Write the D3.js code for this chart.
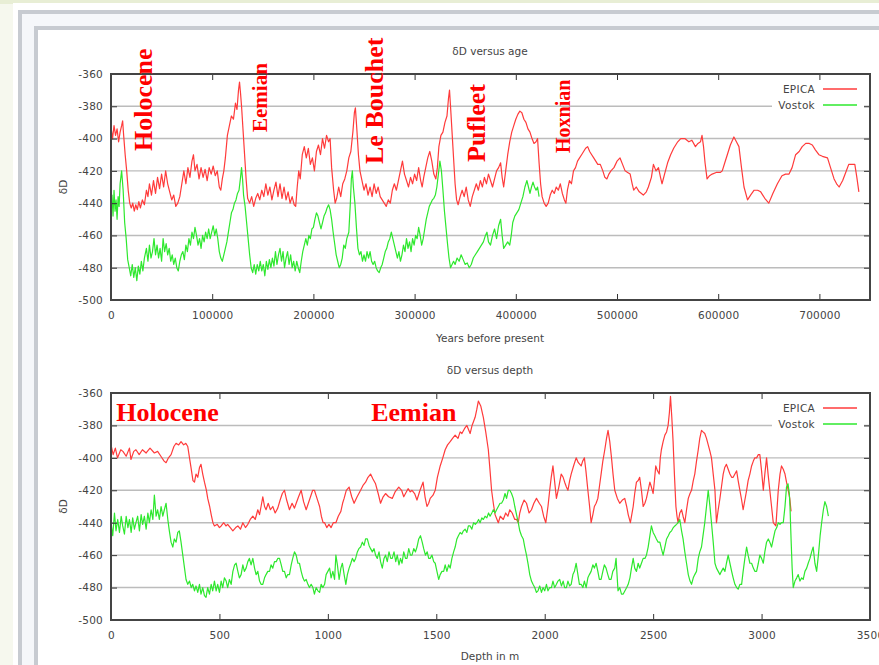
<!DOCTYPE html>
<html><head><meta charset="utf-8">
<script src="https://cdn.jsdelivr.net/npm/d3@7"></script>
<style>html,body{margin:0;padding:0;background:#f6f8ee;overflow:hidden}</style>
</head><body>
<script>
// ---------- data ----------
const yTicks = [-360,-380,-400,-420,-440,-460,-480,-500];
const ageTicks = [0,100000,200000,300000,400000,500000,600000,700000];
const depthTicks = [0,500,1000,1500,2000,2500,3000,3500];
const seriesNames = ["EPICA","Vostok"];

const epicaAge = [[0,-393],[1500,-400],[3000,-392],[4500,-398],[6000,-394],[7500,-402],[9000,-396],[10500,-392],[11500,-389],[12500,-398],[14000,-410],[15500,-420],[17000,-432],[18500,-440],[20000,-443],[21500,-440],[23000,-445],[24500,-441],[26000,-444],[27500,-439],[29000,-443],[31000,-438],[33000,-441],[35000,-432],[36500,-436],[38000,-428],[40000,-435],[42000,-426],[44000,-434],[46000,-424],[48000,-431],[50000,-422],[52000,-430],[54000,-420],[56000,-428],[58000,-433],[60000,-438],[62000,-435],[64000,-442],[66000,-440],[68000,-436],[70000,-428],[72000,-420],[74000,-428],[76000,-418],[78000,-424],[80000,-414],[81500,-410],[83000,-420],[85000,-416],[87000,-425],[89000,-418],[91000,-424],[93000,-419],[95000,-426],[97000,-418],[99000,-422],[101000,-417],[103000,-423],[105000,-420],[107000,-430],[108500,-432],[110000,-425],[111500,-420],[113000,-412],[115000,-398],[117000,-392],[119000,-386],[121000,-388],[123000,-378],[124500,-382],[126000,-370],[127000,-365],[128000,-372],[129000,-380],[130500,-395],[132000,-410],[133500,-425],[135000,-437],[137000,-440],[139000,-436],[141000,-442],[143000,-437],[145000,-434],[147000,-438],[149000,-432],[151000,-436],[153000,-428],[155000,-435],[157000,-430],[159000,-438],[161000,-432],[163000,-427],[165000,-436],[167000,-428],[169000,-437],[171000,-430],[173000,-438],[175000,-433],[177000,-440],[179000,-436],[181000,-441],[182500,-442],[184000,-430],[185500,-420],[187000,-425],[189000,-410],[191000,-405],[193000,-412],[195000,-406],[197000,-416],[199000,-412],[201000,-420],[203000,-408],[205000,-404],[207000,-410],[209000,-400],[211000,-406],[213000,-398],[215000,-402],[216500,-400],[218000,-418],[220000,-432],[221500,-440],[223000,-437],[225000,-430],[227000,-436],[229000,-428],[231000,-425],[233000,-420],[235000,-412],[237000,-408],[239000,-396],[240500,-384],[241500,-381],[243000,-395],[244500,-410],[246000,-420],[248000,-426],[250000,-432],[252000,-428],[254000,-435],[256000,-430],[258000,-436],[260000,-428],[262000,-434],[264000,-430],[266000,-436],[268000,-438],[270000,-440],[272000,-442],[274000,-438],[276000,-440],[278000,-432],[280000,-428],[282000,-432],[284000,-426],[286000,-420],[288000,-414],[290000,-422],[292000,-426],[294000,-430],[296000,-424],[298000,-428],[300000,-422],[302000,-426],[304000,-418],[306000,-426],[307500,-430],[309000,-424],[311000,-418],[313000,-412],[315000,-408],[317000,-414],[319000,-422],[321000,-425],[322500,-418],[324000,-405],[326000,-398],[328000,-396],[330000,-390],[332000,-386],[333500,-375],[334500,-370],[335500,-380],[337000,-396],[338500,-412],[340000,-428],[341500,-438],[343000,-441],[345000,-436],[347000,-432],[349000,-436],[351000,-430],[353000,-438],[355000,-442],[357000,-436],[359000,-432],[361000,-428],[363000,-432],[365000,-426],[367000,-430],[369000,-424],[371000,-428],[373000,-422],[375000,-426],[377000,-430],[379000,-425],[381000,-420],[383000,-418],[385000,-415],[386500,-424],[388000,-430],[390000,-420],[392000,-410],[394000,-402],[396000,-396],[398000,-392],[400000,-388],[402000,-385],[404000,-383],[406000,-384],[408000,-388],[410000,-390],[412000,-394],[414000,-396],[416000,-400],[418000,-403],[420000,-402],[421500,-400],[423000,-415],[424500,-428],[426000,-436],[428000,-440],[430000,-442],[432000,-440],[434000,-435],[436000,-432],[438000,-434],[440000,-430],[442000,-432],[444000,-428],[446000,-434],[448000,-438],[449500,-440],[451000,-432],[453000,-426],[455000,-428],[457000,-420],[459000,-418],[461000,-414],[463000,-412],[465000,-410],[467000,-408],[469000,-406],[471000,-405],[473000,-408],[475000,-410],[477000,-412],[479000,-414],[481000,-416],[483500,-416],[486000,-420],[488000,-424],[490000,-425],[492000,-422],[494000,-420],[497000,-418],[500000,-414],[503000,-412],[505500,-416],[508000,-420],[510500,-421],[513000,-422],[515000,-428],[516500,-432],[519000,-430],[522000,-433],[526000,-435],[529000,-433],[531000,-430],[534000,-424],[536000,-416],[538500,-420],[541000,-418],[543000,-424],[544500,-428],[547000,-422],[550000,-415],[553000,-410],[556000,-406],[560000,-402],[563000,-400],[567000,-400],[571000,-402],[574000,-401],[577500,-405],[580000,-403],[582500,-402],[584000,-398],[585500,-405],[587000,-415],[589000,-425],[591500,-423],[594000,-422],[598000,-421],[602000,-421],[604000,-420],[606500,-415],[609000,-410],[612000,-404],[615500,-399],[618000,-402],[620500,-405],[623000,-418],[625500,-430],[629000,-438],[632000,-435],[635500,-432],[639000,-432],[642000,-433],[646000,-437],[650000,-440],[654000,-434],[658500,-428],[663000,-423],[666500,-422],[670000,-422],[673000,-418],[676500,-410],[680000,-408],[683000,-405],[686500,-403],[690000,-403],[693000,-404],[696000,-407],[699500,-410],[703000,-411],[708000,-412],[711000,-418],[714500,-425],[717000,-428],[719500,-430],[723000,-426],[726000,-421],[729000,-416],[732000,-416],[735000,-416],[737000,-424],[739000,-433]];

const vostokAge = [[0,-442],[1000,-435],[2000,-448],[3000,-432],[4000,-445],[5000,-438],[6000,-450],[7000,-436],[8000,-442],[9000,-428],[10500,-420],[12000,-432],[13500,-452],[15000,-462],[16500,-475],[18000,-480],[19500,-485],[21000,-478],[22500,-486],[24000,-480],[25500,-488],[27000,-479],[28500,-484],[30000,-476],[31500,-482],[33000,-474],[35000,-468],[36500,-476],[38000,-466],[39500,-474],[41000,-470],[42500,-462],[44000,-472],[45500,-466],[47000,-474],[48500,-468],[50000,-476],[51500,-462],[53000,-470],[54500,-465],[56000,-472],[57500,-468],[59000,-476],[60500,-472],[62000,-478],[63500,-474],[65000,-480],[66500,-482],[68000,-476],[69500,-472],[71000,-470],[72500,-475],[74000,-466],[75500,-470],[77000,-462],[78500,-466],[80000,-458],[81500,-462],[83000,-455],[84500,-460],[86000,-466],[87500,-462],[89000,-468],[90500,-460],[92000,-464],[93500,-458],[95000,-462],[96500,-456],[98000,-462],[99500,-458],[101000,-454],[102500,-460],[104000,-456],[105500,-462],[107000,-470],[108500,-474],[110000,-476],[111500,-472],[113000,-468],[114500,-464],[116000,-458],[117500,-452],[119000,-446],[120500,-444],[122000,-440],[123500,-438],[125000,-434],[126500,-432],[128000,-424],[129000,-418],[130000,-425],[131000,-435],[132500,-442],[134000,-452],[135500,-462],[137000,-472],[138500,-480],[140000,-483],[141500,-478],[143000,-484],[144500,-478],[146000,-482],[147500,-476],[149000,-482],[150500,-478],[152000,-485],[153500,-476],[155000,-481],[156500,-475],[158000,-480],[159500,-474],[161000,-479],[162500,-470],[164000,-478],[165500,-472],[167000,-468],[168500,-476],[170000,-470],[171500,-480],[173000,-474],[174500,-470],[176000,-478],[177500,-472],[179000,-480],[180500,-476],[182000,-482],[183500,-476],[185000,-480],[186500,-483],[188000,-476],[189500,-470],[191000,-466],[192500,-462],[194000,-466],[195500,-460],[197000,-462],[198500,-456],[200000,-455],[201500,-450],[203000,-446],[204500,-448],[206000,-452],[207500,-456],[209000,-452],[210500,-448],[212000,-446],[213500,-443],[215000,-441],[216500,-444],[218000,-450],[219500,-458],[221000,-465],[222500,-472],[224000,-476],[225500,-480],[227000,-478],[228500,-474],[230000,-466],[231500,-468],[233000,-462],[235000,-458],[236500,-440],[237500,-425],[238500,-420],[239500,-430],[241000,-440],[242500,-455],[244000,-468],[245500,-472],[247000,-470],[248500,-476],[250000,-472],[251500,-476],[253000,-470],[254500,-474],[256000,-470],[257500,-476],[259000,-478],[260500,-476],[262000,-480],[263500,-482],[265000,-483],[266500,-480],[268000,-478],[269500,-474],[271000,-470],[272500,-468],[274000,-464],[275500,-462],[277000,-458],[278500,-462],[280000,-466],[281500,-470],[283000,-474],[284500,-470],[286000,-476],[287500,-472],[289000,-466],[290500,-470],[292000,-462],[293500,-468],[295000,-464],[296500,-470],[298000,-462],[299500,-466],[301000,-460],[302500,-462],[304000,-455],[305500,-460],[307000,-466],[308500,-462],[310000,-456],[311500,-450],[313000,-446],[314500,-442],[316000,-440],[317500,-438],[319000,-437],[320500,-435],[322000,-430],[323500,-422],[325000,-414],[326500,-420],[328000,-432],[329500,-445],[331000,-455],[332500,-465],[334000,-474],[335500,-480],[337000,-478],[338500,-476],[340000,-478],[342000,-474],[344000,-476],[346000,-472],[348000,-475],[350000,-478],[352000,-477],[354000,-480],[356000,-478],[358000,-474],[360000,-472],[362000,-470],[364000,-468],[366000,-466],[368000,-464],[370000,-460],[371500,-458],[373000,-464],[375000,-466],[377000,-460],[379000,-456],[381000,-462],[383000,-454],[385000,-450],[386500,-460],[388000,-468],[390000,-466],[392000,-464],[394000,-466],[395500,-460],[397000,-452],[399000,-448],[401000,-446],[403000,-444],[405000,-440],[407000,-436],[409000,-430],[411000,-426],[412500,-430],[414000,-434],[415500,-430],[417000,-427],[418500,-430],[420000,-432],[421500,-430],[423000,-436]];

const epicaDepth = [[0,-392],[10,-398],[20,-394],[30,-400],[45,-395],[55,-396],[70,-399],[85,-394],[92,-401],[105,-396],[115,-395],[130,-398],[145,-395],[162,-397],[180,-394],[200,-397],[215,-396],[230,-399],[245,-402],[254,-403],[265,-400],[277,-398],[290,-393],[300,-391],[312,-392],[323,-390],[335,-392],[345,-391],[354,-393],[362,-400],[369,-406],[378,-414],[385,-415],[392,-410],[400,-412],[408,-406],[415,-404],[423,-410],[431,-415],[440,-420],[446,-425],[455,-430],[462,-435],[470,-440],[477,-442],[490,-441],[500,-443],[508,-442],[520,-440],[530,-442],[538,-441],[550,-443],[562,-445],[575,-443],[585,-442],[597,-444],[608,-440],[620,-443],[631,-441],[642,-438],[654,-436],[665,-438],[677,-432],[685,-435],[692,-430],[700,-424],[708,-430],[715,-432],[725,-428],[735,-432],[746,-430],[757,-434],[769,-431],[780,-426],[790,-422],[800,-420],[810,-426],[823,-432],[835,-428],[846,-431],[854,-428],[865,-424],[877,-420],[888,-427],[900,-432],[910,-428],[920,-424],[930,-420],[938,-420],[950,-425],[962,-430],[970,-436],[978,-440],[985,-440],[995,-443],[1005,-441],[1015,-443],[1025,-440],[1037,-440],[1048,-436],[1060,-433],[1068,-428],[1075,-425],[1085,-420],[1098,-418],[1110,-424],[1121,-428],[1135,-424],[1151,-420],[1162,-417],[1174,-415],[1185,-412],[1197,-410],[1208,-413],[1220,-416],[1232,-422],[1243,-428],[1255,-424],[1266,-422],[1280,-424],[1297,-425],[1310,-421],[1327,-418],[1340,-420],[1350,-424],[1358,-422],[1370,-419],[1380,-421],[1388,-420],[1400,-422],[1411,-426],[1425,-420],[1439,-415],[1448,-424],[1457,-430],[1465,-428],[1472,-425],[1485,-423],[1495,-420],[1505,-412],[1518,-405],[1530,-400],[1541,-395],[1552,-392],[1564,-390],[1575,-388],[1587,-386],[1600,-388],[1610,-384],[1618,-385],[1630,-382],[1641,-380],[1650,-383],[1656,-385],[1665,-380],[1679,-375],[1687,-370],[1694,-365],[1705,-368],[1717,-375],[1728,-384],[1740,-395],[1748,-408],[1755,-420],[1763,-428],[1771,-435],[1780,-438],[1786,-440],[1795,-436],[1809,-438],[1820,-434],[1830,-436],[1839,-432],[1850,-434],[1862,-438],[1870,-438],[1878,-440],[1885,-434],[1893,-430],[1905,-426],[1916,-428],[1928,-434],[1939,-432],[1950,-428],[1962,-425],[1975,-428],[1985,-430],[1995,-436],[2005,-440],[2015,-430],[2023,-420],[2030,-412],[2038,-405],[2046,-415],[2054,-425],[2065,-418],[2076,-410],[2085,-412],[2092,-415],[2100,-418],[2107,-420],[2115,-414],[2122,-410],[2133,-405],[2145,-400],[2155,-403],[2168,-405],[2175,-402],[2183,-400],[2190,-408],[2199,-420],[2207,-430],[2214,-440],[2222,-435],[2229,-430],[2237,-428],[2245,-425],[2252,-418],[2260,-410],[2268,-402],[2277,-395],[2285,-388],[2292,-383],[2300,-390],[2308,-400],[2315,-410],[2323,-420],[2335,-425],[2346,-428],[2358,-426],[2369,-425],[2378,-430],[2385,-435],[2395,-440],[2408,-430],[2415,-422],[2423,-415],[2431,-414],[2438,-412],[2446,-420],[2454,-430],[2462,-428],[2469,-425],[2477,-420],[2485,-415],[2492,-418],[2500,-422],[2506,-414],[2512,-405],[2520,-408],[2528,-410],[2533,-400],[2538,-395],[2546,-390],[2554,-386],[2562,-384],[2569,-380],[2575,-372],[2580,-362],[2586,-375],[2592,-390],[2598,-410],[2605,-430],[2610,-436],[2615,-440],[2623,-434],[2631,-432],[2638,-436],[2646,-440],[2654,-432],[2662,-425],[2670,-422],[2677,-420],[2685,-414],[2692,-410],[2700,-402],[2708,-395],[2715,-388],[2723,-383],[2730,-384],[2738,-385],[2746,-388],[2754,-392],[2762,-396],[2769,-400],[2777,-410],[2785,-420],[2792,-440],[2800,-432],[2808,-425],[2815,-418],[2823,-410],[2830,-406],[2838,-404],[2846,-407],[2854,-410],[2862,-412],[2869,-412],[2877,-410],[2885,-408],[2892,-414],[2900,-420],[2908,-426],[2915,-432],[2923,-426],[2931,-420],[2938,-414],[2946,-410],[2954,-405],[2962,-402],[2969,-400],[2977,-400],[2985,-398],[2992,-398],[3000,-408],[3008,-420],[3015,-410],[3023,-400],[3030,-410],[3038,-420],[3046,-430],[3054,-440],[3060,-441],[3066,-442],[3072,-430],[3077,-420],[3085,-410],[3092,-405],[3100,-407],[3108,-410],[3115,-415],[3123,-420],[3130,-425],[3136,-433]];

const vostokDepth = [[0,-440],[8,-448],[16,-434],[23,-445],[31,-438],[39,-446],[47,-436],[54,-442],[62,-447],[70,-436],[78,-443],[85,-438],[93,-446],[100,-437],[108,-444],[115,-440],[123,-436],[131,-445],[139,-435],[146,-441],[154,-436],[162,-444],[170,-434],[177,-440],[185,-432],[193,-438],[200,-423],[208,-436],[215,-432],[223,-438],[231,-430],[239,-436],[246,-432],[254,-428],[262,-438],[269,-445],[277,-452],[285,-455],[292,-450],[300,-452],[308,-446],[315,-445],[323,-452],[331,-460],[339,-468],[346,-475],[354,-478],[362,-476],[370,-480],[377,-478],[385,-482],[392,-479],[400,-483],[408,-478],[415,-484],[423,-480],[431,-485],[438,-486],[446,-480],[454,-484],[462,-478],[469,-482],[477,-476],[485,-482],[492,-478],[500,-483],[508,-476],[515,-480],[523,-474],[531,-476],[538,-480],[546,-475],[554,-478],[562,-470],[570,-466],[577,-465],[585,-470],[592,-474],[600,-472],[608,-466],[615,-470],[623,-468],[631,-464],[638,-462],[646,-466],[654,-462],[662,-468],[669,-472],[677,-470],[685,-476],[692,-478],[700,-478],[708,-474],[715,-472],[723,-470],[731,-470],[738,-466],[746,-468],[754,-464],[762,-464],[769,-462],[777,-462],[785,-466],[792,-470],[800,-470],[808,-474],[815,-472],[823,-472],[831,-466],[838,-462],[846,-458],[854,-460],[862,-465],[869,-465],[877,-470],[885,-474],[892,-476],[900,-475],[908,-478],[915,-480],[923,-478],[931,-480],[938,-484],[946,-480],[954,-482],[962,-483],[969,-478],[977,-480],[985,-478],[992,-472],[1000,-470],[1008,-468],[1015,-474],[1023,-470],[1031,-475],[1037,-460],[1044,-466],[1052,-475],[1060,-468],[1067,-465],[1075,-472],[1083,-478],[1090,-472],[1098,-468],[1106,-465],[1113,-462],[1121,-464],[1128,-462],[1136,-458],[1143,-456],[1151,-455],[1159,-452],[1167,-454],[1174,-450],[1182,-450],[1190,-454],[1197,-456],[1205,-458],[1213,-456],[1220,-460],[1228,-462],[1236,-458],[1243,-464],[1251,-468],[1259,-462],[1266,-460],[1274,-464],[1282,-458],[1290,-462],[1297,-462],[1305,-458],[1313,-464],[1320,-460],[1328,-466],[1335,-462],[1342,-465],[1350,-458],[1358,-462],[1365,-462],[1373,-456],[1381,-460],[1388,-460],[1396,-456],[1404,-458],[1411,-455],[1419,-450],[1427,-448],[1435,-452],[1442,-456],[1450,-460],[1458,-458],[1465,-462],[1472,-462],[1480,-460],[1488,-464],[1495,-465],[1503,-470],[1511,-475],[1518,-472],[1526,-470],[1534,-470],[1541,-466],[1549,-470],[1557,-466],[1564,-468],[1572,-462],[1580,-458],[1587,-455],[1595,-450],[1602,-448],[1610,-446],[1618,-447],[1625,-445],[1633,-444],[1641,-446],[1648,-442],[1656,-442],[1664,-444],[1672,-440],[1680,-441],[1687,-440],[1695,-438],[1702,-440],[1710,-437],[1717,-438],[1725,-436],[1733,-437],[1741,-434],[1748,-436],[1756,-434],[1763,-432],[1771,-434],[1778,-432],[1786,-430],[1794,-428],[1801,-428],[1809,-426],[1817,-422],[1824,-425],[1832,-420],[1839,-420],[1847,-422],[1855,-425],[1862,-430],[1870,-435],[1878,-440],[1885,-445],[1893,-448],[1901,-450],[1908,-455],[1916,-460],[1924,-466],[1931,-472],[1939,-476],[1946,-478],[1954,-480],[1962,-483],[1969,-482],[1977,-479],[1985,-483],[1992,-480],[2000,-482],[2008,-478],[2015,-482],[2023,-480],[2031,-480],[2038,-476],[2046,-480],[2054,-478],[2061,-476],[2069,-475],[2077,-479],[2085,-476],[2092,-480],[2100,-480],[2107,-476],[2115,-479],[2122,-478],[2130,-472],[2137,-470],[2145,-465],[2153,-472],[2160,-478],[2168,-478],[2176,-480],[2183,-476],[2191,-480],[2199,-474],[2206,-472],[2214,-470],[2222,-466],[2229,-468],[2237,-465],[2245,-470],[2252,-475],[2260,-475],[2268,-470],[2275,-466],[2283,-468],[2291,-472],[2298,-475],[2306,-475],[2314,-470],[2323,-468],[2329,-462],[2338,-482],[2346,-480],[2354,-484],[2362,-484],[2370,-482],[2378,-480],[2385,-478],[2393,-474],[2400,-468],[2408,-462],[2415,-468],[2423,-470],[2431,-465],[2438,-468],[2446,-465],[2454,-462],[2462,-462],[2469,-460],[2477,-455],[2485,-448],[2492,-442],[2500,-446],[2508,-448],[2515,-450],[2523,-452],[2531,-452],[2538,-456],[2546,-460],[2554,-455],[2562,-450],[2570,-448],[2577,-446],[2585,-445],[2593,-443],[2600,-442],[2608,-441],[2615,-440],[2623,-438],[2631,-445],[2638,-450],[2646,-458],[2654,-465],[2662,-472],[2670,-476],[2677,-478],[2685,-474],[2692,-472],[2700,-470],[2708,-462],[2715,-458],[2723,-455],[2730,-448],[2738,-440],[2746,-430],[2754,-420],[2762,-430],[2769,-440],[2777,-452],[2785,-465],[2792,-468],[2800,-470],[2808,-472],[2815,-470],[2823,-468],[2831,-470],[2838,-465],[2846,-460],[2854,-465],[2862,-470],[2869,-474],[2877,-478],[2885,-480],[2892,-481],[2900,-478],[2908,-478],[2915,-470],[2923,-462],[2931,-455],[2938,-460],[2946,-465],[2954,-465],[2962,-468],[2969,-470],[2977,-470],[2985,-465],[2992,-460],[3000,-462],[3008,-465],[3015,-458],[3023,-452],[3031,-450],[3038,-452],[3046,-455],[3054,-450],[3062,-445],[3070,-443],[3077,-440],[3085,-441],[3092,-440],[3100,-440],[3108,-430],[3115,-418],[3122,-416],[3128,-422],[3131,-430],[3136,-450],[3141,-468],[3146,-480],[3154,-476],[3162,-474],[3169,-472],[3177,-476],[3185,-474],[3192,-475],[3200,-470],[3208,-468],[3215,-465],[3223,-462],[3231,-458],[3238,-455],[3246,-465],[3254,-470],[3262,-460],[3270,-448],[3277,-440],[3285,-432],[3292,-427],[3300,-430],[3308,-436]];

const ageAnnotations = [
  {text:"Holocene", age:41000, y:151, size:26},
  {text:"Eemian", age:154000, y:132, size:21},
  {text:"Le Bouchet", age:269000, y:164, size:26},
  {text:"Pufleet", age:370000, y:162, size:26},
  {text:"Hoxnian", age:454000, y:153, size:20}
];
const depthAnnotations = [
  {text:"Holocene", depth:24},
  {text:"Eemian", depth:1200}
];

// ---------- page ----------
const W = 879, H = 665;
const svg = d3.select("body").append("svg").attr("width", W).attr("height", H)
  .style("display","block");

svg.append("rect").attr("width", W).attr("height", H).attr("fill", "#f6f8ee");
svg.append("rect").attr("width", W).attr("height", 4).attr("fill", "#e8eed5");
svg.append("rect").attr("x", 13).attr("y", 3).attr("width", W).attr("height", H).attr("fill", "#ffffff");
svg.append("rect").attr("x", 20).attr("y", 12).attr("width", 900).attr("height", 700)
  .attr("fill", "#f5f7fa").attr("stroke", "#c7cbd1").attr("stroke-width", 4);
svg.append("rect").attr("x", 36).attr("y", 28).attr("width", 900).attr("height", 700)
  .attr("fill", "#ffffff").attr("stroke", "#c7cbd1").attr("stroke-width", 4);

const FONT = "DejaVu Sans, Verdana, sans-serif";
const LEFT = 111, RIGHT = 870;
const colors = {EPICA: "#ff3b3b", Vostok: "#2ee82e"};
const fmt = d => String(d);

function panel(o) {
  const x = d3.scaleLinear().domain(o.xDomain).range([LEFT, RIGHT]);
  const y = d3.scaleLinear().domain([-500, -360]).range([o.bottom, o.top]);
  const g = svg.append("g");

  // grid
  g.selectAll("line.grid").data(yTicks.filter(v => v > -500 && v < -360)).join("line")
    .attr("x1", LEFT).attr("x2", RIGHT)
    .attr("y1", d => y(d)).attr("y2", d => y(d))
    .attr("stroke", "#bcbcbc").attr("stroke-width", 1.4);

  // series
  const line = d3.line().x(d => x(d[0])).y(d => y(d[1]));
  o.series.forEach((s, i) => {
    g.append("path").datum(s).attr("d", line).attr("fill", "none")
      .attr("stroke", colors[seriesNames[i]]).attr("stroke-width", 1.2)
      .attr("stroke-linejoin", "round");
  });

  // legend
  g.append("rect").attr("x", 772).attr("y", o.top + 6).attr("width", 92).attr("height", 34)
    .attr("fill", "#fff");
  seriesNames.forEach((n, i) => {
    const ly = o.top + 15 + i * 16;
    g.append("text").attr("x", 815).attr("y", ly + 4).attr("text-anchor", "end")
      .attr("font-family", FONT).attr("font-size", 10.5).attr("fill", "#444")
      .attr("letter-spacing", 0.3).text(n);
    g.append("line").attr("x1", 823).attr("x2", 857).attr("y1", ly).attr("y2", ly)
      .attr("stroke", colors[n]).attr("stroke-width", 1.3);
  });

  // axes
  const styleAxis = sel => {
    sel.select(".domain").remove();
    sel.selectAll("line").attr("stroke", "#333");
    sel.selectAll("text").attr("font-family", FONT).attr("font-size", 10.5)
      .attr("fill", "#444").attr("letter-spacing", 0.2);
  };
  g.append("g").attr("transform", `translate(${LEFT},0)`)
    .call(d3.axisLeft(y).tickValues(yTicks).tickSize(-6).tickPadding(8).tickFormat(fmt)).call(styleAxis);
  g.append("g").attr("transform", `translate(${RIGHT},0)`)
    .call(d3.axisRight(y).tickValues(yTicks).tickSize(-6).tickFormat("")).call(styleAxis);
  g.append("g").attr("transform", `translate(0,${o.bottom})`)
    .call(d3.axisBottom(x).tickValues(o.xTicks).tickSize(-6).tickPadding(12).tickFormat(fmt))
    .call(styleAxis);
  g.append("g").attr("transform", `translate(0,${o.top})`)
    .call(d3.axisTop(x).tickValues(o.xTicks).tickSize(-6).tickFormat("")).call(styleAxis);

  // frame
  g.append("rect").attr("x", LEFT).attr("y", o.top).attr("width", RIGHT - LEFT)
    .attr("height", o.bottom - o.top).attr("fill", "none")
    .attr("stroke", "#444").attr("stroke-width", 2);

  // labels
  g.append("text").attr("x", 490).attr("y", o.top - 19).attr("text-anchor", "middle")
    .attr("font-family", FONT).attr("font-size", 10.5).attr("fill", "#444").text(o.title);
  g.append("text").attr("x", 490).attr("y", o.bottom + o.xLabelOff).attr("text-anchor", "middle")
    .attr("font-family", FONT).attr("font-size", 10.5).attr("fill", "#444").text(o.xLabel);
  g.append("text").attr("transform", `translate(67,${(o.top + o.bottom) / 2}) rotate(-90)`)
    .attr("text-anchor", "middle").attr("font-family", FONT).attr("font-size", 10.5)
    .attr("fill", "#444").text("δD");
  return {x, y, g};
}

const p1 = panel({top: 74, bottom: 300, xDomain: [0, 750000], xTicks: ageTicks,
  series: [epicaAge, vostokAge], title: "δD versus age", xLabel: "Years before present", xLabelOff: 42});
const p2 = panel({top: 393, bottom: 620, xDomain: [0, 3500], xTicks: depthTicks,
  series: [epicaDepth, vostokDepth], title: "δD versus depth", xLabel: "Depth in m", xLabelOff: 40});

// annotations
const SERIF = "Liberation Serif, Times New Roman, serif";
ageAnnotations.forEach(a => {
  p1.g.append("text")
    .attr("transform", `translate(${p1.x(a.age)},${a.y}) rotate(-90)`)
    .attr("font-family", SERIF).attr("font-weight", "bold").attr("font-size", a.size)
    .attr("fill", "#ff0000").text(a.text);
});
depthAnnotations.forEach(a => {
  p2.g.append("text").attr("x", p2.x(a.depth)).attr("y", 421)
    .attr("font-family", SERIF).attr("font-weight", "bold").attr("font-size", 26)
    .attr("fill", "#ff0000").text(a.text);
});
</script>
</body></html>
